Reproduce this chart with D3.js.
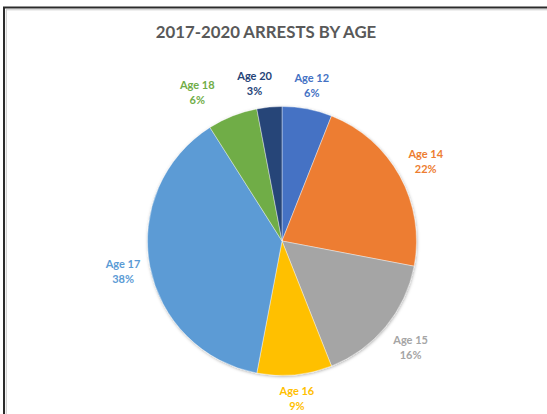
<!DOCTYPE html>
<html>
<head>
<meta charset="utf-8">
<script src="https://cdn.jsdelivr.net/npm/d3@7"></script>
<style>
  html, body { margin: 0; padding: 0; background: #fff; }
  svg { display: block; }
</style>
</head>
<body>
<div id="chart"></div>
<script>
// Share of arrests by age, 2017-2020 (percent of total)
const categories = ["Age 12", "Age 14", "Age 15", "Age 16", "Age 17", "Age 18", "Age 20"];
const values = [6, 22, 16, 9, 38, 6, 3];
const sliceColors = ["#4472C4", "#ED7D31", "#A5A5A5", "#FFC000", "#5B9BD5", "#70AD47", "#264478"];
const titleText = "2017-2020 ARRESTS BY AGE";

const width = 547, height = 414;
const cx = 282, cy = 241, radius = 134.5;
const fontStack = "Lato, 'Open Sans', sans-serif";

const svg = d3.select("#chart").append("svg")
  .attr("width", width)
  .attr("height", height);

// soft shadow under the pie
const defs = svg.append("defs");
const shadow = defs.append("filter").attr("id", "pieShadow")
  .attr("x", "-20%").attr("y", "-20%").attr("width", "140%").attr("height", "140%");
shadow.append("feDropShadow")
  .attr("dx", 0.5).attr("dy", 1).attr("stdDeviation", 1.6)
  .attr("flood-color", "#000").attr("flood-opacity", 0.3);

// chart frame
svg.append("rect")
  .attr("x", 4).attr("y", 7.5)
  .attr("width", width + 10).attr("height", height + 10)
  .attr("fill", "#fff")
  .attr("stroke", "#2b2b2b").attr("stroke-width", 2);
svg.append("path")
  .attr("d", `M6,9.8H${width}M6.3,9.5V${height}`)
  .attr("stroke", "#c8c8c8").attr("stroke-width", 1).attr("fill", "none");

// title
svg.append("text")
  .attr("x", 266).attr("y", 38)
  .attr("text-anchor", "middle")
  .attr("font-family", fontStack)
  .attr("font-weight", "bold")
  .attr("font-size", 16.8)
  .attr("fill", "#595959")
  .text(titleText);

const color = d3.scaleOrdinal().domain(categories).range(sliceColors);

const pie = d3.pie().sort(null).value(d => d.value);
const data = categories.map((c, i) => ({ name: c, value: values[i] }));
const arcs = pie(data);

const arc = d3.arc().innerRadius(0).outerRadius(radius);

const g = svg.append("g").attr("transform", `translate(${cx},${cy})`);

g.append("g").attr("filter", "url(#pieShadow)")
  .selectAll("path")
  .data(arcs)
  .join("path")
  .attr("d", arc)
  .attr("fill", d => color(d.data.name))
  .attr("stroke", "#fff")
  .attr("stroke-width", 0.4);

// Outside-end labels: the two-line label box sits just off the rim,
// its centre pushed out by the box's extent along the slice's mid-angle.
const total = d3.sum(values);
const boxHalfW = 18, boxHalfH = 15, rimGap = 9, minGap = 21;

function placeAt(angle) {
  const s = Math.sin(angle), c = Math.cos(angle);
  const ext = Math.min(
    Math.abs(s) > 1e-6 ? boxHalfW / Math.abs(s) : Infinity,
    Math.abs(c) > 1e-6 ? boxHalfH / Math.abs(c) : Infinity
  );
  const d = radius + rimGap + ext;
  return [s * d, -c * d];
}

const labelInfo = arcs.map(d => {
  const [x, y] = placeAt((d.startAngle + d.endAngle) / 2);
  return { d, x, y };
});

// when two neighbouring labels collide, slide the earlier one
// sideways until the boxes clear each other
for (let iter = 0; iter < 400; iter++) {
  let moved = false;
  for (let i = labelInfo.length - 1; i >= 0; i--) {
    const a = labelInfo[i], b = labelInfo[(i + 1) % labelInfo.length];
    const overlapX = 2 * boxHalfW + minGap - Math.abs(a.x - b.x);
    const overlapY = 2 * boxHalfH - Math.abs(a.y - b.y);
    if (overlapX > 0 && overlapY > 0) {
      a.x += (a.x <= b.x ? -0.5 : 0.5);
      moved = true;
    }
  }
  if (!moved) break;
}

const labels = g.append("g")
  .selectAll("text")
  .data(labelInfo)
  .join("text")
  .attr("text-anchor", "middle")
  .attr("font-family", fontStack)
  .attr("font-weight", "bold")
  .attr("font-size", 11)
  .attr("fill", l => color(l.d.data.name))
  .attr("transform", l => `translate(${l.x},${l.y})`);

labels.append("tspan")
  .attr("x", 0).attr("y", -3.5)
  .text(l => l.d.data.name);
labels.append("tspan")
  .attr("x", 0).attr("y", 11.5)
  .text(l => Math.round(l.d.data.value / total * 100) + "%");
</script>
</body>
</html>
